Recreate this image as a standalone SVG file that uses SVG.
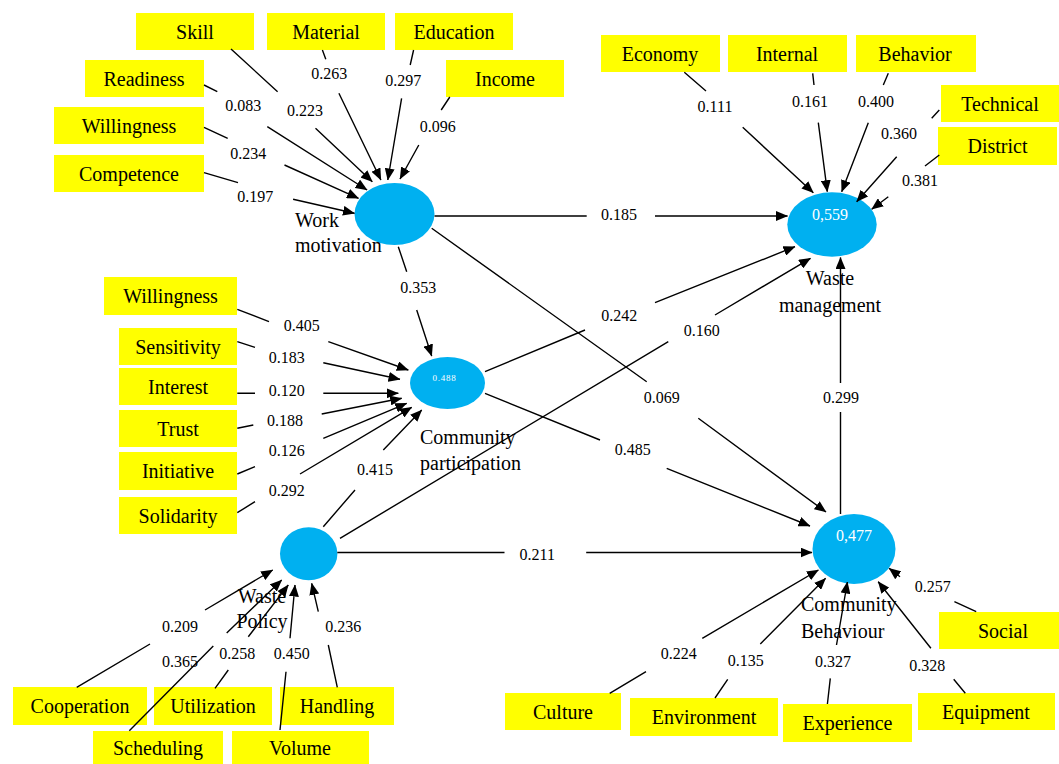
<svg xmlns="http://www.w3.org/2000/svg" width="1059" height="764" viewBox="0 0 1059 764">
<style>
.bg{fill:#fff}
.box{fill:#ffff00}
.lv{fill:#00b0f0}
.bt{font-family:"Liberation Serif","Times New Roman",serif;font-size:20px;fill:#000;text-anchor:middle}
.nt{font-family:"Liberation Serif","Times New Roman",serif;font-size:20px;fill:#000}
.ntm{font-family:"Liberation Serif","Times New Roman",serif;font-size:20px;fill:#000;text-anchor:middle}
.num{font-family:"Liberation Serif","Times New Roman",serif;font-size:16px;fill:#000;text-anchor:middle}
.val{font-family:"Liberation Serif","Times New Roman",serif;font-size:16px;fill:#fff;text-anchor:middle}
.c{stroke:#000;stroke-width:1.4;fill:none;marker-end:url(#ah)}
</style>
<defs>
<marker id="ah" markerUnits="userSpaceOnUse" markerWidth="12" markerHeight="10" refX="11.5" refY="5" orient="auto">
<path d="M0,0 L12,5 L0,10 z" fill="#000"/>
</marker>
</defs>
<rect class="bg" x="0" y="0" width="1059" height="764"/>

<!-- latent variables -->
<g id="work-motivation">
<ellipse class="lv" cx="394.5" cy="214" rx="40" ry="31"/>
<text class="nt" x="295" y="227">Work</text>
<text class="nt" x="295" y="252">motivation</text>
</g>
<g id="waste-management">
<ellipse class="lv" cx="832" cy="224.5" rx="44.7" ry="32.2"/>
<text class="val" x="830" y="220">0,559</text>
<text class="ntm" x="830" y="285">Waste</text>
<text class="ntm" x="830" y="312">management</text>
</g>
<g id="community-participation">
<ellipse class="lv" cx="447.5" cy="383" rx="37.5" ry="26"/>
<text class="val" x="444.5" y="380.5" style="font-size:9px;letter-spacing:0.8px">0.488</text>
<text class="nt" x="420" y="444">Community</text>
<text class="nt" x="420" y="470">participation</text>
</g>
<g id="waste-policy">
<ellipse class="lv" cx="308.7" cy="553.7" rx="28.7" ry="26.5"/>
<text class="ntm" x="262" y="603">Waste</text>
<text class="ntm" x="262" y="628">Policy</text>
</g>
<g id="community-behaviour">
<ellipse class="lv" cx="854" cy="549" rx="41.5" ry="35"/>
<text class="val" x="854" y="541">0,477</text>
<text class="nt" x="801" y="611">Community</text>
<text class="nt" x="801" y="638">Behaviour</text>
</g>

<!-- indicator boxes -->
<g id="skill"><rect class="box" x="136" y="13" width="118" height="37"/><text class="bt" x="195" y="38.5">Skill</text></g>
<g id="material"><rect class="box" x="267" y="13" width="118" height="37"/><text class="bt" x="326" y="38.5">Material</text></g>
<g id="education"><rect class="box" x="395" y="13" width="118" height="37"/><text class="bt" x="454" y="38.5">Education</text></g>
<g id="income"><rect class="box" x="446" y="60" width="118" height="37"/><text class="bt" x="505" y="85.5">Income</text></g>
<g id="readiness"><rect class="box" x="85" y="60" width="119" height="37"/><text class="bt" x="144" y="85.5">Readiness</text></g>
<g id="willingness-1"><rect class="box" x="54" y="107" width="150" height="37"/><text class="bt" x="129" y="132.5">Willingness</text></g>
<g id="competence"><rect class="box" x="54" y="155" width="150" height="37"/><text class="bt" x="129" y="180.5">Competence</text></g>

<g id="economy"><rect class="box" x="601" y="35" width="119" height="37"/><text class="bt" x="660" y="60.5">Economy</text></g>
<g id="internal"><rect class="box" x="728" y="35" width="119" height="37"/><text class="bt" x="787" y="60.5">Internal</text></g>
<g id="behavior"><rect class="box" x="856" y="35" width="120" height="37"/><text class="bt" x="915" y="60.5">Behavior</text></g>
<g id="technical"><rect class="box" x="941" y="85" width="118" height="37"/><text class="bt" x="1000" y="110.5">Technical</text></g>
<g id="district"><rect class="box" x="938" y="127" width="119" height="38"/><text class="bt" x="997.5" y="153">District</text></g>

<g id="willingness-2"><rect class="box" x="104" y="277" width="133" height="38"/><text class="bt" x="170.5" y="303">Willingness</text></g>
<g id="sensitivity"><rect class="box" x="119" y="328" width="118" height="37"/><text class="bt" x="178" y="353.5">Sensitivity</text></g>
<g id="interest"><rect class="box" x="119" y="368" width="118" height="37"/><text class="bt" x="178" y="393.5">Interest</text></g>
<g id="trust"><rect class="box" x="119" y="410" width="118" height="37"/><text class="bt" x="178" y="435.5">Trust</text></g>
<g id="initiative"><rect class="box" x="119" y="452" width="118" height="38"/><text class="bt" x="178" y="478">Initiative</text></g>
<g id="solidarity"><rect class="box" x="119" y="497" width="118" height="37"/><text class="bt" x="178" y="522.5">Solidarity</text></g>

<g id="cooperation"><rect class="box" x="13" y="687" width="134" height="38"/><text class="bt" x="80" y="713">Cooperation</text></g>
<g id="utilization"><rect class="box" x="154" y="687" width="118" height="38"/><text class="bt" x="213" y="713">Utilization</text></g>
<g id="handling"><rect class="box" x="280" y="687" width="114" height="38"/><text class="bt" x="337" y="713">Handling</text></g>
<g id="scheduling"><rect class="box" x="93" y="731" width="130" height="33"/><text class="bt" x="158" y="755">Scheduling</text></g>
<g id="volume"><rect class="box" x="232" y="731" width="137" height="33"/><text class="bt" x="300" y="755">Volume</text></g>

<g id="social"><rect class="box" x="939" y="612" width="120" height="37"/><text class="bt" x="1003" y="637.5">Social</text></g>
<g id="culture"><rect class="box" x="505" y="693" width="116" height="37"/><text class="bt" x="563" y="718.5">Culture</text></g>
<g id="environment"><rect class="box" x="630" y="698" width="148" height="38"/><text class="bt" x="704" y="724">Environment</text></g>
<g id="experience"><rect class="box" x="783" y="704" width="129" height="38"/><text class="bt" x="847.5" y="730">Experience</text></g>
<g id="equipment"><rect class="box" x="918" y="693" width="137" height="37"/><text class="bt" x="986" y="718.5">Equipment</text></g>

<!-- connectors -->
<g id="connectors">
<path class="c" d="M231,49 L277.6,91.7 M315.5,128.3 L372.3,181.7"/><text class="num" x="305" y="115.5">0.223</text>
<path class="c" d="M322.4,50 L325.8,59.3 M338.9,93.3 L380.9,180"/><text class="num" x="329.3" y="78.8">0.263</text>
<path class="c" d="M413.6,50 L410.2,65 M401.6,98.3 L387.8,180"/><text class="num" x="403.3" y="85.5">0.297</text>
<path class="c" d="M449.8,97 L441.2,110 M418.8,145 L400,179"/><text class="num" x="437.7" y="131.5">0.096</text>
<path class="c" d="M204,85 L217.3,91.7 M267.3,126.7 L367.1,190"/><text class="num" x="243.2" y="110.5">0.083</text>
<path class="c" d="M204,127.3 L227.7,138.3 M284.5,165 L358.5,198.3"/><text class="num" x="248.3" y="158.8">0.234</text>
<path class="c" d="M204,172.7 L238,182.7 M293.1,199.3 L354.5,213.3"/><text class="num" x="255.2" y="202.2">0.197</text>

<path class="c" d="M434.5,216 L586.7,216 M655,216 L787.5,216"/><text class="num" x="619" y="219.8">0.185</text>
<path class="c" d="M431.7,228.3 L646.7,381.7 M698.3,418.3 L826,512"/><text class="num" x="661.7" y="402.8">0.069</text>
<path class="c" d="M398.3,246.7 L406.7,271.7 M416.7,310 L431.7,356"/><text class="num" x="418.3" y="292.8">0.353</text>
<path class="c" d="M485,371.7 L585,330 M655,302.7 L795,246.7"/><text class="num" x="619.3" y="320.5">0.242</text>
<path class="c" d="M485,393.3 L600,440 M666.7,468.3 L810,526"/><text class="num" x="632.7" y="454.8">0.485</text>
<path class="c" d="M340,538.3 L668.3,341.7 M715,315 L810.5,258.3"/><text class="num" x="701.7" y="335.5">0.160</text>
<path class="c" d="M323.3,526.7 L355,490 M383.3,450 L421.7,410"/><text class="num" x="375" y="474.5">0.415</text>
<path class="c" d="M337.3,552.5 L504.5,552.5 M586.2,552.5 L812,552.5"/><text class="num" x="537.2" y="559.5">0.211</text>
<path class="c" d="M840.5,514 L840.5,412 M840.5,383 L840.5,257.5"/><text class="num" x="841" y="402.5">0.299</text>

<path class="c" d="M237.3,309.3 L269,321.7 M328.3,341.7 L408.3,370"/><text class="num" x="301.7" y="330.5">0.405</text>
<path class="c" d="M237.3,341.7 L255,347.3 M323.3,362.7 L400,379.3"/><text class="num" x="286.7" y="362.8">0.183</text>
<path class="c" d="M237.3,393.3 L255,393.3 M323.3,393.3 L398.3,393.3"/><text class="num" x="286.7" y="395.5">0.120</text>
<path class="c" d="M237.3,428.3 L253.3,425 M321.7,414 L401.7,398.3"/><text class="num" x="285" y="426.2">0.188</text>
<path class="c" d="M237.3,474 L255,466.7 M323.3,438.3 L406.7,403.3"/><text class="num" x="286.7" y="455.5">0.126</text>
<path class="c" d="M237.3,512.7 L255,501.7 M300,474 L411.7,407.3"/><text class="num" x="286.7" y="495.5">0.292</text>

<path class="c" d="M76.7,687.3 L150,644 M205,610 L272.7,570"/><text class="num" x="180" y="632.2">0.209</text>
<path class="c" d="M129.3,730.7 L213.3,646 M226.7,633 L281.7,580"/><text class="num" x="180" y="667.2">0.365</text>
<path class="c" d="M215,688.3 L228.3,670 M248.3,636.7 L288.3,585"/><text class="num" x="237.3" y="658.8">0.258</text>
<path class="c" d="M280,730 L286,671.7 M290,638.3 L295,585"/><text class="num" x="291.7" y="658.8">0.450</text>
<path class="c" d="M337.3,687.3 L328.3,645 M318.3,611.7 L311.7,583.3"/><text class="num" x="343.3" y="632.2">0.236</text>

<path class="c" d="M684.3,72.3 L706,91 M742.7,127.3 L813.3,192.7"/><text class="num" x="715" y="112.2">0.111</text>
<path class="c" d="M812.7,73.3 L814,85 M818.3,122.7 L827.3,191.7"/><text class="num" x="810" y="106.5">0.161</text>
<path class="c" d="M888.3,73.3 L883.3,85 M868.3,122.7 L841.7,191.7"/><text class="num" x="876" y="106.5">0.400</text>
<path class="c" d="M939.3,110 L931.7,118.3 M896.7,156.7 L856.7,201.7"/><text class="num" x="899" y="138.8">0.360</text>
<path class="c" d="M939.3,155 L925,166 M888.3,196.7 L871.7,209.3"/><text class="num" x="920" y="185.5">0.381</text>

<path class="c" d="M609.7,693.3 L646,671.7 M702.3,638.3 L818.4,570"/><text class="num" x="678.7" y="658.8">0.224</text>
<path class="c" d="M715,698 L727.7,679.3 M760.3,644 L825.6,578.3"/><text class="num" x="745.8" y="665.5">0.135</text>
<path class="c" d="M827.4,704 L830.3,678.3 M836.5,645 L847.4,582"/><text class="num" x="832.9" y="667.2">0.327</text>
<path class="c" d="M965.3,693.3 L953.7,679.3 M930.9,648.3 L878.2,581.7"/><text class="num" x="927.2" y="670.5">0.328</text>
<path class="c" d="M976.2,611.7 L954.4,601.7 M900,576.7 L889.1,568.3"/><text class="num" x="932.7" y="592.2">0.257</text>
</g>
</svg>
